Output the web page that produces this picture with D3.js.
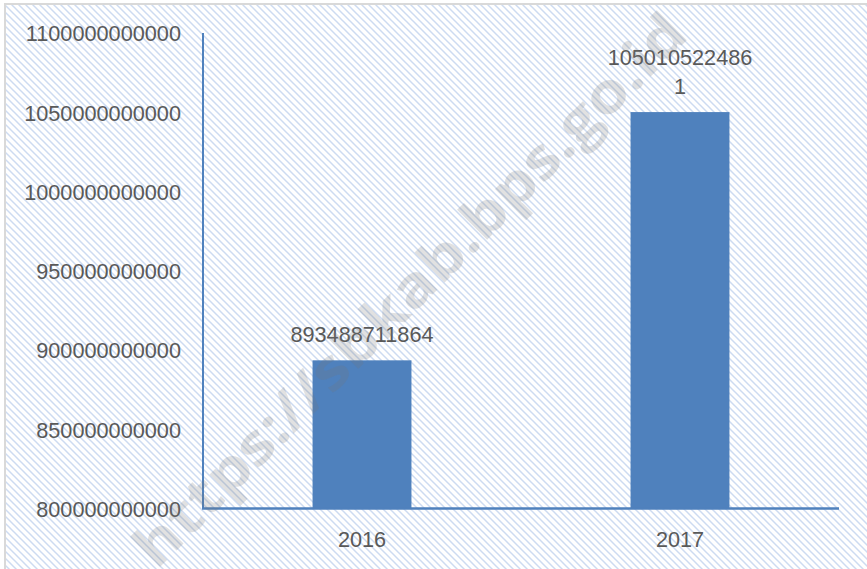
<!DOCTYPE html>
<html>
<head>
<meta charset="utf-8">
<script src="https://cdn.jsdelivr.net/npm/d3@7"></script>
<style>
  body { margin: 0; background: #ffffff; }
  .tick-label, .data-label, .cat-label { font-family: "Liberation Sans", Arial, sans-serif; fill: #595959; }
</style>
</head>
<body>
<div id="chart"></div>
<script>
// Data
var years = ["2016", "2017"];
var values = [893488711864, 1050105224861];
var labelLines = [["893488711864"], ["105010522486", "1"]];
var yTicks = [800000000000, 850000000000, 900000000000, 950000000000, 1000000000000, 1050000000000, 1100000000000];

var width = 867, height = 569;
var margin = { left: 203, right: 28, top: 33, bottom: 61 };

var svg = d3.select("#chart").append("svg")
    .attr("width", width)
    .attr("height", height);

// Hatched background
var defs = svg.append("defs");
var pat = defs.append("pattern")
    .attr("id", "hatch")
    .attr("patternUnits", "userSpaceOnUse")
    .attr("width", 7)
    .attr("height", 7);
pat.append("path")
    .attr("d", "M-1,-1 L8,8 M-1,6 L1,8 M6,-1 L8,1")
    .attr("stroke", "#cddbf1")
    .attr("stroke-width", 1.5);

svg.append("rect")
    .attr("x", 5).attr("y", 4)
    .attr("width", width).attr("height", height)
    .attr("fill", "url(#hatch)")
    .attr("stroke", "#d9d9d9")
    .attr("stroke-width", 2);

// Scales
var x = d3.scaleBand()
    .domain(years)
    .range([margin.left, width - margin.right])
    .padding(0);
var y = d3.scaleLinear()
    .domain([800000000000, 1100000000000])
    .range([height - margin.bottom + 0.5, margin.top]);

var barW = x.bandwidth() * 0.311;

// Y tick labels
var yAxis = d3.axisLeft(y).tickValues(yTicks).tickSize(0).tickPadding(22).tickFormat(d3.format("d"));
var gy = svg.append("g")
    .attr("transform", "translate(" + margin.left + ",0)")
    .call(yAxis);
gy.select(".domain").remove();
gy.selectAll("text")
    .attr("class", "tick-label")
    .attr("fill", null)
    .style("font-size", "21.7px")
    .attr("dy", "0.36em");

// Bars
svg.selectAll(".bar")
    .data(values)
    .enter()
    .append("rect")
    .attr("class", "bar")
    .attr("x", function (d, i) { return x(years[i]) + x.bandwidth() / 2 - barW / 2; })
    .attr("y", function (d) { return y(d); })
    .attr("width", barW)
    .attr("height", function (d) { return y(800000000000) - y(d); })
    .attr("fill", "#4f81bd");

// Axis lines
svg.append("line")
    .attr("x1", margin.left).attr("x2", margin.left)
    .attr("y1", margin.top).attr("y2", y(800000000000))
    .attr("stroke", "#4f81bd").attr("stroke-width", 2);
svg.append("line")
    .attr("x1", margin.left - 1).attr("x2", width - margin.right)
    .attr("y1", y(800000000000)).attr("y2", y(800000000000))
    .attr("stroke", "#4f81bd").attr("stroke-width", 2.5);

// Category labels
svg.selectAll(".cat-label")
    .data(years)
    .enter()
    .append("text")
    .attr("class", "cat-label")
    .attr("x", function (d) { return x(d) + x.bandwidth() / 2; })
    .attr("y", 547)
    .attr("text-anchor", "middle")
    .style("font-size", "21.7px")
    .text(function (d) { return d; });

// Data labels (wrapped as in the picture)
var dl = svg.selectAll(".data-label")
    .data(values)
    .enter()
    .append("text")
    .attr("class", "data-label")
    .attr("text-anchor", "middle")
    .style("font-size", "21.7px");
dl.each(function (d, i) {
    var lines = labelLines[i];
    var cx = x(years[i]) + x.bandwidth() / 2;
    var base = y(d) - 18 - (lines.length - 1) * 29;
    d3.select(this).selectAll("tspan")
        .data(lines)
        .enter()
        .append("tspan")
        .attr("x", cx)
        .attr("y", function (l, j) { return base + j * 29; })
        .text(function (l) { return l; });
});

// Watermark
svg.append("text")
    .attr("transform", "translate(408,288) rotate(-45)")
    .attr("text-anchor", "middle")
    .attr("dominant-baseline", "central")
    .attr("textLength", 755)
    .attr("lengthAdjust", "spacingAndGlyphs")
    .style("font-family", "'Open Sans', 'Liberation Sans', sans-serif")
    .style("font-weight", "bold")
    .style("font-size", "56px")
    .attr("fill", "rgba(120,120,120,0.22)")
    .text("https://sbkab.bps.go.id");
</script>
</body>
</html>
